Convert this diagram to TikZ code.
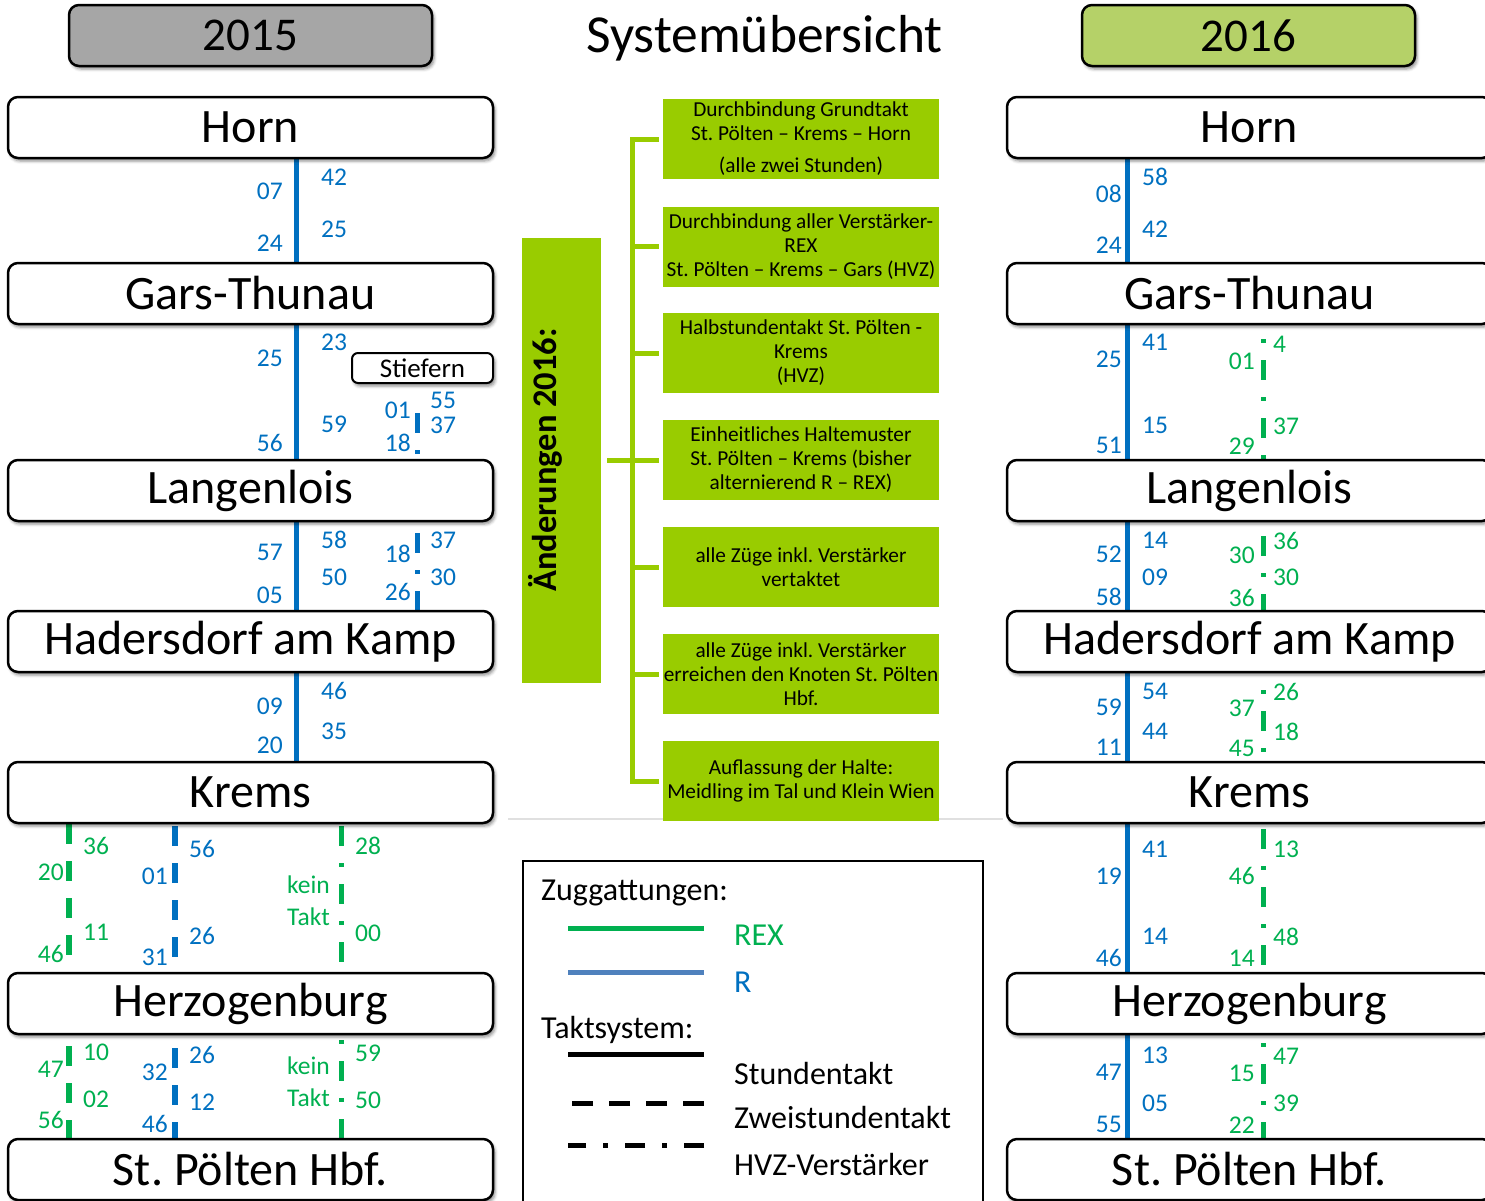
\documentclass[tikz,border=0pt]{standalone}
\usepackage{fontspec}
\setmainfont{Carlito}
\usetikzlibrary{shadows.blur,calc}
\definecolor{rblue}{HTML}{0070C0}
\definecolor{rexgreen}{HTML}{00B050}
\definecolor{boxgreen}{HTML}{99CC00}
\definecolor{yeargray}{HTML}{A6A6A6}
\definecolor{yeargreen}{HTML}{B5D168}
\definecolor{legblue}{HTML}{4F81BD}
\definecolor{sepgray}{HTML}{E0E0E0}
\pgfdeclarelayer{bg}
\pgfsetlayers{bg,main}
\frenchspacing
\begin{document}
\begin{tikzpicture}[x=1pt,y=-1pt,
  shad/.style={blur shadow={shadow xshift=2pt,shadow yshift=-3pt,shadow blur radius=3pt,shadow opacity=45}},
  station/.style={draw=black,line width=2.5pt,rounded corners=10pt,fill=white,minimum width=485pt,minimum height=61pt,inner sep=0pt,font=\fontsize{48}{56}\selectfont,shad},
  yearbox/.style={draw=black,line width=2.5pt,rounded corners=10pt,minimum width=363pt,minimum height=61pt,inner sep=0pt,font=\fontsize{47}{56}\selectfont,shad},
  smallstation/.style={draw=black,line width=2pt,rounded corners=6pt,fill=white,minimum width=141pt,minimum height=30pt,inner sep=0pt,font=\fontsize{27}{30}\selectfont,shad},
  lab/.style={inner sep=0pt,font=\fontsize{25.5}{30}\selectfont},
  cbox/.style={fill=boxgreen,minimum width=276pt,minimum height=80pt,inner sep=0pt,align=center,font=\fontsize{21.3}{24}\selectfont},
  brk/.style={draw=boxgreen,line width=5pt},
  rsolid/.style={draw=rblue,line width=5pt},
  hvz/.style={line width=5pt,dash pattern=on 20pt off 17pt on 4pt off 17pt},
  zwei/.style={line width=5.5pt,dash pattern=on 20pt off 17pt},
  legtxt/.style={inner sep=0pt,anchor=base west,font=\fontsize{32}{38}\selectfont},
  legline/.style={line width=5pt}
]
\useasboundingbox (0,0) rectangle (1485,1200);

% column x coordinates
\coordinate (lbx) at (296,0);
\coordinate (sx) at (417,0);
\coordinate (g1) at (69,0);
\coordinate (b1) at (175,0);
\coordinate (g2) at (341,0);
\coordinate (rbx) at (1127,0);
\coordinate (rg) at (1263,0);

% headers
\node[yearbox,fill=yeargray] (y15) at (250.5,35.5) {2015};
\node[yearbox,fill=yeargreen,minimum width=333pt] (y16) at (1248.5,35.5) {2016};
\node[inner sep=0pt,anchor=base,font=\fontsize{53.5}{60}\selectfont] (title) at (764.5,52) {Systemübersicht};

% stations left
\node[station] (lhorn) at (250.5,127.5) {Horn};
\node[station] (lgars) at (250.5,293.5) {Gars-Thunau};
\node[station] (llang) at (250.5,490.5) {Langenlois};
\node[station] (lhad) at (250.5,641.5) {Hadersdorf am Kamp};
\node[station] (lkrems) at (250.5,792.5) {Krems};
\node[station] (lherz) at (250.5,1003.5) {Herzogenburg};
\node[station] (lstp) at (250.5,1169.5) {St. Pölten Hbf.};
\node[smallstation] (stief) at (422.5,368) {Stiefern};
% stations right
\node[station] (rhorn) at (1249.5,127.5) {Horn};
\node[station] (rgars) at (1249.5,293.5) {Gars-Thunau};
\node[station] (rlang) at (1249.5,490.5) {Langenlois};
\node[station] (rhad) at (1249.5,641.5) {Hadersdorf am Kamp};
\node[station] (rkrems) at (1249.5,792.5) {Krems};
\node[station] (rherz) at (1249.5,1003.5) {Herzogenburg};
\node[station] (rstp) at (1249.5,1169.5) {St. Pölten Hbf.};

\coordinate (s1) at (417,413);

\begin{pgfonlayer}{bg}
  % left solid R line
  \foreach \a/\b in {lhorn/lgars,lgars/llang,llang/lhad,lhad/lkrems}
    \draw[rsolid] (\a.south -| lbx) -- (\b.north -| lbx);
  % Stiefern lane
  \draw[hvz,draw=rblue] (s1) -- (llang.north -| sx);
  \draw[hvz,draw=rblue,dash phase=47pt] (llang.south -| sx) -- (lhad.north -| sx);
  % left Krems - Herzogenburg - St. Poelten
  \draw[zwei,draw=rexgreen] (lkrems.south -| g1) -- (lherz.north -| g1);
  \draw[zwei,draw=rblue,dash phase=35pt] (lkrems.south -| b1) -- (lherz.north -| b1);
  \draw[hvz,draw=rexgreen,dash phase=56pt] (lkrems.south -| g2) -- (lherz.north -| g2);
  \draw[zwei,draw=rexgreen,dash phase=26pt] (lherz.south -| g1) -- (lstp.north -| g1);
  \draw[zwei,draw=rblue,dash phase=24pt] (lherz.south -| b1) -- (lstp.north -| b1);
  \draw[hvz,draw=rexgreen,dash phase=32pt] (lherz.south -| g2) -- (lstp.north -| g2);
  % right solid R line
  \foreach \a/\b in {rhorn/rgars,rgars/rlang,rlang/rhad,rhad/rkrems,rkrems/rherz,rherz/rstp}
    \draw[rsolid] (\a.south -| rbx) -- (\b.north -| rbx);
  % right HVZ REX
  \foreach \a/\b/\p in {rgars/rlang/23,rlang/rhad/44,rhad/rkrems/20,rkrems/rherz/53,rherz/rstp/29}
    \draw[hvz,draw=rexgreen,dash phase=\p pt] (\a.south -| rg) -- (\b.north -| rg);
  % separator
  \draw[draw=sepgray,line width=2pt] (508,819) -- (1003,819);
\end{pgfonlayer}

% blue labels, right aligned
\foreach \px/\py/\t [count=\i] in {283/191/07,283/243/24,283/358/25,283/443/56,283/552/57,283/595/05,283/706/09,283/745/20,
  411/410/01,411/443/18,411/554/18,411/592/26,
  168/876/01,168/957/31,168/1072/32,168/1124/46,
  1122/194/08,1122/245/24,1122/359/25,1122/445/51,1122/554/52,1122/597/58,1122/707/59,1122/747/11,1122/876/19,1122/958/46,1122/1072/47,1122/1124/55}
  \node[lab,anchor=east,text=rblue] (be\i) at (\px,\py) {\t};
% blue labels, left aligned
\foreach \px/\py/\t [count=\i] in {321/177/42,321/229/25,321/342/23,321/424/59,321/540/58,321/577/50,321/691/46,321/731/35,
  430/400/55,430/425/37,430/540/37,430/577/30,
  189/849/56,189/936/26,189/1055/26,189/1102/12,
  1142/177/58,1142/229/42,1142/342/41,1142/425/15,1142/540/14,1142/577/09,1142/691/54,1142/731/44,1142/849/41,1142/936/14,1142/1055/13,1142/1103/05}
  \node[lab,anchor=west,text=rblue] (bw\i) at (\px,\py) {\t};
% green labels, right aligned
\foreach \px/\py/\t [count=\i] in {64/872/20,64/954/46,64/1069/47,64/1120/56,
  330/885/kein,330/917/Takt,330/1066/kein,330/1098/Takt,
  1255/361/01,1255/446/29,1255/555/30,1255/598/36,1255/708/37,1255/748/45,1255/876/46,1255/958/14,1255/1073/15,1255/1125/22}
  \node[lab,anchor=east,text=rexgreen] (ge\i) at (\px,\py) {\t};
% green labels, left aligned
\foreach \px/\py/\t [count=\i] in {83/846/36,83/932/11,83/1052/10,83/1099/02,
  355/846/28,355/933/00,355/1053/59,355/1100/50,
  1273/344/4,1273/426/37,1273/541/36,1273/577/30,1273/692/26,1273/732/18,1273/849/13,1273/937/48,1273/1056/47,1273/1103/39}
  \node[lab,anchor=west,text=rexgreen] (gw\i) at (\px,\py) {\t};

% centre: changes 2016
\node[fill=boxgreen,minimum width=79pt,minimum height=445pt,inner sep=0pt] (aend) at (561.5,460.5) {};
\node[rotate=90,inner sep=0pt,font=\fontsize{34.5}{40}\selectfont\bfseries] (aendtxt) at (545,460) {Änderungen 2016:};

\node[cbox] (c1) at (801,139) {Durchbindung Grundtakt\\St. Pölten -- Krems -- Horn\\[8pt](alle zwei Stunden)};
\node[cbox] (c2) at (801,246.5) {Durchbindung aller Verstärker-\\REX\\St. Pölten -- Krems -- Gars (HVZ)};
\node[cbox] (c3) at (801,353) {Halbstundentakt St. Pölten -\\Krems\\(HVZ)};
\node[cbox] (c4) at (801,460) {Einheitliches Haltemuster\\St. Pölten -- Krems (bisher\\alternierend R -- REX)};
\node[cbox] (c5) at (801,567) {alle Züge inkl. Verstärker\\vertaktet};
\node[cbox] (c6) at (801,674) {alle Züge inkl. Verstärker\\erreichen den Knoten St. Pölten\\Hbf.};
\node[cbox] (c7) at (801,781) {Auflassung der Halte:\\Meidling im Tal und Klein Wien};

\draw[brk] ([xshift=-4pt]c1.west) -- ++(-26,0) -- ([xshift=-30pt]c7.west) -- ([xshift=-4pt]c7.west);
\foreach \c in {c2,c3,c4,c5,c6}
  \draw[brk] ([xshift=-4pt]\c.west) -- ++(-26,0);
\draw[brk] ([xshift=6pt]aend.east) -- ++(26,0);

% legend
\node[draw=black,line width=2pt,minimum width=460pt,minimum height=360pt,anchor=north west,inner sep=0pt] (legend) at (522,860) {};
\node[legtxt] (lz) at (541,900) {Zuggattungen:};
\coordinate (la1) at (568,928); \coordinate (lb1) at (704,928);
\draw[legline,draw=rexgreen] (la1) -- (lb1);
\node[legtxt,text=rexgreen] (lrex) at (734,945) {REX};
\coordinate (la2) at (568,972); \coordinate (lb2) at (704,972);
\draw[legline,draw=legblue] (la2) -- (lb2);
\node[legtxt,text=rblue] (lr) at (734,992) {R};
\node[legtxt] (lt) at (541,1038) {Taktsystem:};
\coordinate (la3) at (568,1054); \coordinate (lb3) at (704,1054);
\draw[legline,draw=black] (la3) -- (lb3);
\node[legtxt] (lst) at (734,1084) {Stundentakt};
\coordinate (la4) at (568,1103); \coordinate (lb4) at (704,1103);
\draw[legline,draw=black,dash pattern=on 21pt off 16pt] (lb4) -- (la4);
\node[legtxt] (lzw) at (734,1128) {Zweistundentakt};
\coordinate (la5) at (568,1145); \coordinate (lb5) at (704,1145);
\draw[legline,draw=black,dash pattern=on 20pt off 17pt on 5pt off 17pt] (lb5) -- (la5);
\node[legtxt] (lhvz) at (734,1175) {HVZ-Verstärker};
\end{tikzpicture}
\end{document}
